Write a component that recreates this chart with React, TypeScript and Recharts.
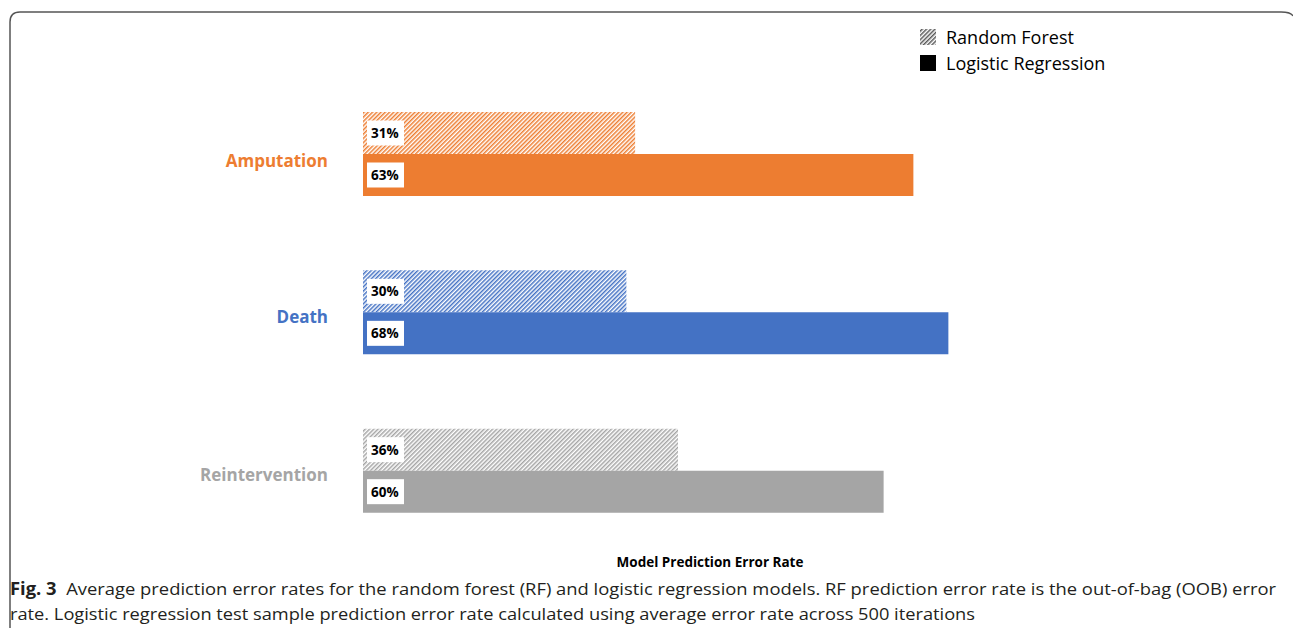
import React from 'react';
import { BarChart, Bar, XAxis, YAxis, LabelList, Cell } from 'recharts';

const categories = ['Amputation', 'Death', 'Reintervention'];
const categoryColors = ['#ED7D31', '#4472C4', '#A5A5A5'];
const randomForest = [31.1, 30.1, 36.0];
const logisticRegression = [62.9, 66.9, 59.5];
const randomForestLabels = ['31%', '30%', '36%'];
const logisticLabels = ['63%', '68%', '60%'];

const data = categories.map((name, i) => ({
  name,
  rf: randomForest[i],
  lr: logisticRegression[i],
  rfLabel: randomForestLabels[i],
  lrLabel: logisticLabels[i],
}));

const FONT = '"Open Sans", "Liberation Sans", sans-serif';

const CategoryTick = (props: any) => {
  const { y, payload } = props;
  return (
    <text
      x={328}
      y={y}
      dy={payload.index === 0 ? 13 : 10}
      textAnchor="end"
      fill={categoryColors[payload.index]}
      fontWeight={700}
      fontSize={17}
      fontFamily={FONT}
    >
      {payload.value}
    </text>
  );
};

const renderTag = (props: any) => {
  const { x, y, height, value } = props;
  const cy = y + height / 2;
  return (
    <g>
      <rect x={x + 4} y={cy - 12.5} width={37} height={25} fill="#fff" />
      <text x={x + 8} y={cy + 5} fontSize={13.5} fontWeight={700} fill="#000" fontFamily={FONT}>
        {value}
      </text>
    </g>
  );
};

const Hatch = ({ id, color }: { id: string; color: string }) => (
  <pattern id={id} patternUnits="userSpaceOnUse" width={3} height={3} patternTransform="rotate(45)">
    <rect width={3} height={3} fill="#fff" />
    <rect width={1.5} height={3} fill={color} />
  </pattern>
);

export default function App() {
  return (
    <div style={{ position: 'absolute', left: 0, top: 0, width: 1293, height: 628, background: '#fff' }}>
      <svg width={1293} height={628} style={{ position: 'absolute', left: 0, top: 0 }}>
        <defs>
          {categoryColors.map((c, i) => (
            <Hatch key={i} id={`hatch-${i}`} color={c} />
          ))}
          <Hatch id="hatch-legend" color="#595959" />
        </defs>
        <path
          d="M10,640 L10,22 Q10,12 20,12 L1281,12 Q1291,12 1293,16"
          fill="none"
          stroke="#555"
          strokeWidth={1.5}
        />
        <rect x={920} y={29} width={16} height={16} fill="url(#hatch-legend)" />
        <text x={946} y={44} fontSize={18} fontFamily={FONT} fill="#000">Random Forest</text>
        <rect x={920} y={55} width={16} height={16} fill="#000" />
        <text x={946} y={70} fontSize={18} fontFamily={FONT} fill="#000">Logistic Regression</text>
        <text x={710} y={567} textAnchor="middle" fontSize={13.5} fontWeight={700} fontFamily={FONT} fill="#000">
          Model Prediction Error Rate
        </text>
        <text x={10} y={595} fontSize={17} fontFamily={FONT} fill="#231F20" textLength={1266} lengthAdjust="spacingAndGlyphs">
          <tspan fontWeight={700}>Fig. 3</tspan>
          <tspan>{'\u00a0\u00a0Average prediction error rates for the random forest (RF) and logistic regression models. RF prediction error rate is the out-of-bag (OOB) error'}</tspan>
        </text>
        <text x={10} y={620} fontSize={17} fontFamily={FONT} fill="#231F20" textLength={965} lengthAdjust="spacingAndGlyphs">
          rate. Logistic regression test sample prediction error rate calculated using average error rate across 500 iterations
        </text>
      </svg>
      <div style={{ position: 'absolute', left: 0, top: 0 }}>
        <BarChart
          width={1293}
          height={628}
          data={data}
          layout="vertical"
          margin={{ top: 75, right: 55, bottom: 78, left: 0 }}
          barGap={0}
          barSize={42}
        >
          <XAxis type="number" domain={[0, 100]} hide />
          <YAxis
            type="category"
            dataKey="name"
            width={363}
            axisLine={false}
            tickLine={false}
            tick={<CategoryTick />}
          />
          <Bar dataKey="rf" isAnimationActive={false}>
            {data.map((_, i) => (
              <Cell key={i} fill={`url(#hatch-${i})`} />
            ))}
            <LabelList dataKey="rfLabel" content={renderTag} />
          </Bar>
          <Bar dataKey="lr" isAnimationActive={false}>
            {data.map((_, i) => (
              <Cell key={i} fill={categoryColors[i]} />
            ))}
            <LabelList dataKey="lrLabel" content={renderTag} />
          </Bar>
        </BarChart>
      </div>
    </div>
  );
}
